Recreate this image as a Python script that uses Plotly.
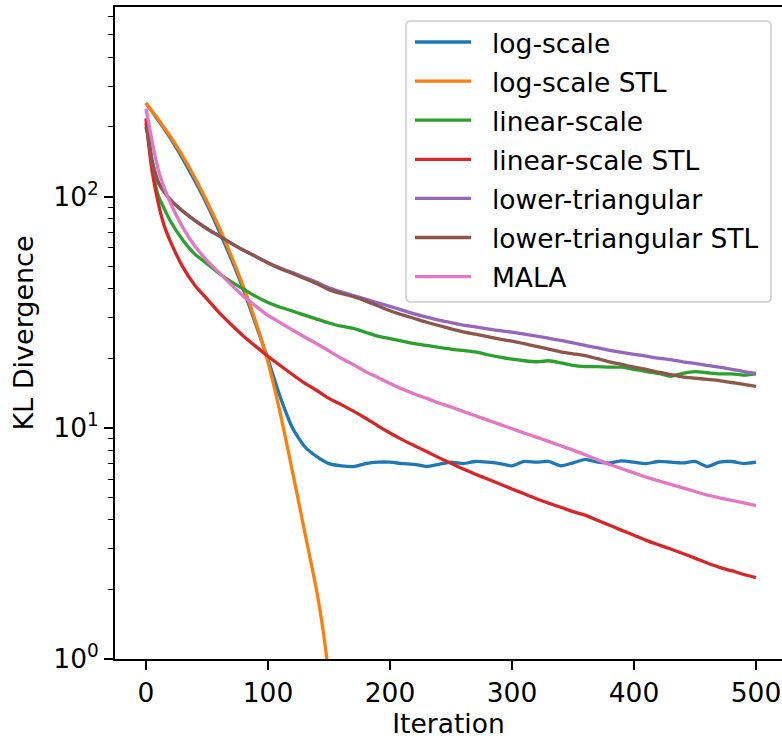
import plotly.graph_objects as go

# ---------------- data ----------------
iterations = [0, 2, 5, 10, 15, 20] + list(range(30, 501, 10))

log_scale = [254, 245, 233, 214, 196, 179, 146, 117, 92.5, 71, 53.5, 39.5, 28, 19.8,
             13.6, 10.0, 8.3, 7.5, 7.0, 6.85, 6.8, 7.0, 7.1, 7.1, 7.0, 6.95, 6.8,
             6.95, 7.1, 7.0, 7.15, 7.1, 7.0, 6.85, 7.15, 7.1, 7.15, 6.85, 7.05, 7.3,
             7.1, 7.05, 7.2, 7.1, 7.0, 7.15, 7.1, 7.05, 7.15, 6.8, 7.1, 7.15, 7.0, 7.1]

iterations_log_stl = [0, 2, 5, 10, 15, 20, 30, 40, 50, 60, 70, 80, 90, 100, 110,
                      120, 130, 140, 145, 150]
log_scale_stl = [254, 246, 234, 216, 198, 182, 150, 121, 95.3, 73.5, 55.3, 40.6,
                 28.7, 19.2, 11.6, 6.5, 3.57, 1.96, 1.35, 0.85]

linear_scale = [207, 176, 134, 101, 88.5, 78.4, 65, 56.4, 51.3, 46.5, 42.8, 39.8,
                37.0, 34.8, 33.2, 32.0, 30.7, 29.5, 28.4, 27.5, 26.9, 25.9, 24.9,
                24.3, 23.7, 23.1, 22.7, 22.3, 21.9, 21.6, 21.3, 20.7, 20.2, 19.8,
                19.5, 19.3, 19.5, 19.1, 18.6, 18.4, 18.4, 18.3, 18.3, 17.9, 17.5,
                17.2, 16.7, 17.2, 17.5, 17.3, 17.1, 17.1, 16.9, 17.1]

linear_scale_stl = [218, 172, 129, 94, 74.7, 64, 49.8, 41.4, 36.1, 31.5, 27.9, 24.9,
                    22.5, 20.4, 18.6, 17.0, 15.6, 14.5, 13.4, 12.6, 11.8, 11.0, 10.2,
                    9.5, 8.89, 8.37, 7.89, 7.43, 7.02, 6.64, 6.30, 6.0, 5.71, 5.44,
                    5.18, 4.93, 4.72, 4.53, 4.34, 4.19, 3.98, 3.79, 3.60, 3.43, 3.26,
                    3.12, 2.99, 2.86, 2.73, 2.60, 2.49, 2.41, 2.32, 2.25]

lower_triangular = [200, 182, 143, 115.6, 104.5, 96.8, 86.7, 78.9, 72.6, 67.6, 62.8,
                    58.6, 55.1, 51.8, 49.1, 46.9, 44.7, 42.6, 40.3, 38.7, 37.3, 36.0,
                    34.7, 33.5, 32.3, 31.1, 30.1, 29.2, 28.5, 27.8, 27.3, 26.8, 26.3,
                    25.9, 25.4, 24.9, 24.4, 23.9, 23.3, 22.7, 22.2, 21.6, 21.2, 20.8,
                    20.4, 20.0, 19.7, 19.3, 19.0, 18.6, 18.3, 17.9, 17.5, 17.2]

lower_triangular_stl = [200, 182, 143, 115.6, 104.5, 96.8, 86.7, 78.9, 72.6, 67.6,
                        62.8, 58.6, 55.1, 51.6, 48.8, 46.5, 44.2, 42.0, 39.6, 38.1,
                        36.9, 35.4, 33.7, 32.1, 30.8, 29.7, 28.6, 27.7, 26.8, 26.0,
                        25.4, 24.8, 24.2, 23.7, 23.1, 22.5, 21.9, 21.3, 20.9, 20.5,
                        19.9, 19.3, 18.8, 18.3, 17.9, 17.4, 17.0, 16.6, 16.4, 16.2,
                        16.0, 15.7, 15.4, 15.1]

mala = [240, 211, 174, 131, 109, 94, 73.8, 61.1, 52.9, 46.9, 41.5, 37.0, 33.6, 30.6,
        28.5, 26.5, 24.7, 23.1, 21.5, 20.0, 18.75, 17.5, 16.5, 15.55, 14.7, 14.0, 13.4,
        12.8, 12.3, 11.77, 11.27, 10.8, 10.35, 9.91, 9.5, 9.11, 8.73, 8.36, 8.01, 7.64,
        7.28, 6.94, 6.65, 6.38, 6.12, 5.90, 5.69, 5.50, 5.30, 5.12, 4.98, 4.85, 4.73,
        4.61]

series_names = ["log-scale", "log-scale STL", "linear-scale", "linear-scale STL",
                "lower-triangular", "lower-triangular STL", "MALA"]
series_x = [iterations, iterations_log_stl, iterations, iterations,
            iterations, iterations, iterations]
series_y = [log_scale, log_scale_stl, linear_scale, linear_scale_stl,
            lower_triangular, lower_triangular_stl, mala]
colors = ["#1f77b4", "#ff7f0e", "#2ca02c", "#d62728", "#9467bd", "#8c564b", "#e377c2"]

for xs, ys in zip(series_x, series_y):
    assert len(xs) == len(ys), (len(xs), len(ys))

x_ticks = [0, 100, 200, 300, 400, 500]
y_ticks = [1, 10, 100]
y_tick_text = ["10<sup>0</sup>", "10<sup>1</sup>", "10<sup>2</sup>"]
y_minor = [m * 10 ** k for k in range(0, 3) for m in range(2, 10)]

# ---------------- layout geometry (pixels) ----------------
W, H = 782, 739
L, R, T, B = 115, 0, 7, 80
FONT = "DejaVu Sans"
FS = 26.5


def px(x):
    return (x - L) / (W - L - R)


def py(y):
    return (H - B - y) / (H - T - B)


fig = go.Figure()
for name, xs, ys, c in zip(series_names, series_x, series_y, colors):
    fig.add_trace(go.Scatter(x=xs, y=ys, mode="lines", name=name,
                             line=dict(color=c, width=3.3, shape="spline", smoothing=0.6),
                             showlegend=False))

# custom legend (matplotlib style)
bx0, bx1, by0, by1, r = 406, 771, 21, 302, 5
path = (f"M {px(bx0 + r)},{py(by0)} L {px(bx1 - r)},{py(by0)} "
        f"Q {px(bx1)},{py(by0)} {px(bx1)},{py(by0 + r)} "
        f"L {px(bx1)},{py(by1 - r)} Q {px(bx1)},{py(by1)} {px(bx1 - r)},{py(by1)} "
        f"L {px(bx0 + r)},{py(by1)} Q {px(bx0)},{py(by1)} {px(bx0)},{py(by1 - r)} "
        f"L {px(bx0)},{py(by0 + r)} Q {px(bx0)},{py(by0)} {px(bx0 + r)},{py(by0)} Z")
shapes = [dict(type="path", xref="paper", yref="paper", path=path,
               fillcolor="rgba(255,255,255,0.8)",
               line=dict(color="#cccccc", width=1.5), layer="above")]
annotations = []
row0, step = 42, 39.1
for i, (name, c) in enumerate(zip(series_names, colors)):
    yy = row0 + i * step
    shapes.append(dict(type="line", xref="paper", yref="paper",
                       x0=px(415), x1=px(471), y0=py(yy), y1=py(yy),
                       line=dict(color=c, width=3.3), layer="above"))
    annotations.append(dict(xref="paper", yref="paper", x=px(491), y=py(yy + 1),
                            xanchor="left", yanchor="middle", text=name,
                            showarrow=False, borderpad=0,
                            font=dict(family=FONT, size=FS, color="black")))

fig.update_layout(
    width=W, height=H,
    margin=dict(l=L, r=R, t=T, b=B, pad=0, autoexpand=False),
    paper_bgcolor="white", plot_bgcolor="white",
    font=dict(family=FONT, size=FS, color="black"),
    shapes=shapes, annotations=annotations,
    showlegend=False,
)
fig.update_xaxes(
    automargin=False,
    range=[-25.4, 521.3], tickmode="array", tickvals=x_ticks,
    ticks="outside", ticklen=9, tickwidth=1.6, tickcolor="black",
    showline=True, linewidth=1.8, linecolor="black", mirror=True,
    showgrid=False, zeroline=False,
    tickfont=dict(family=FONT, size=FS),
    title=dict(text="Iteration", font=dict(family=FONT, size=FS), standoff=7),
)
fig.update_yaxes(
    automargin=False,
    type="log", range=[0, 2.82], tickmode="array", tickvals=y_ticks, ticktext=y_tick_text,
    ticks="outside", ticklen=9, tickwidth=1.6, tickcolor="black",
    minor=dict(tickvals=y_minor, ticks="outside", ticklen=5, tickwidth=1.2,
               tickcolor="black", showgrid=False),
    showline=True, linewidth=1.8, linecolor="black", mirror=False,
    showgrid=False, zeroline=False,
    tickfont=dict(family=FONT, size=FS),
    title=dict(text="KL Divergence", font=dict(family=FONT, size=27), standoff=12),
)

fig.write_html("out.html", config={"displayModeBar": False},
               post_script="document.body.style.margin='0px';document.body.style.overflow='hidden';")
